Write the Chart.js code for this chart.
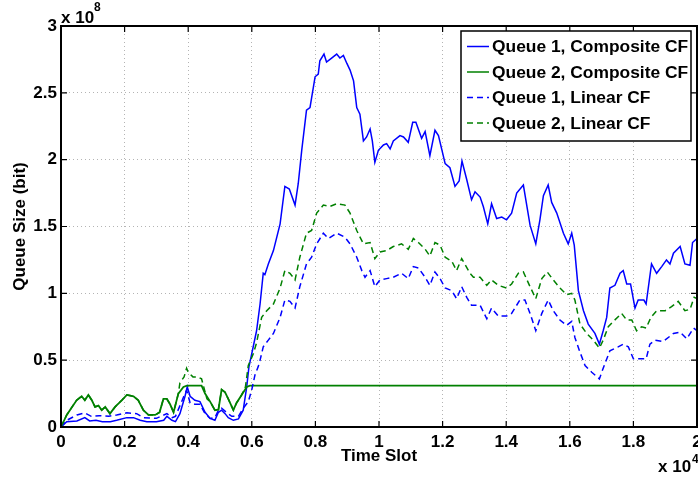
<!DOCTYPE html>
<html>
<head>
<meta charset="utf-8">
<script src="https://cdn.jsdelivr.net/npm/chart.js@4.4.1/dist/chart.umd.min.js"></script>
<style>
  html, body { margin: 0; padding: 0; background: #fff; }
  #c { display: block; }
</style>
</head>
<body>
<canvas id="c" width="698" height="479"></canvas>
<script>
// Time slot in units of 10^4, queue size in units of 10^8 bit
const xTicks = [0, 0.2, 0.4, 0.6, 0.8, 1, 1.2, 1.4, 1.6, 1.8, 2];
const yTicks = [0, 0.5, 1, 1.5, 2, 2.5, 3];
const seriesNames = ["Queue 1, Composite CF", "Queue 2, Composite CF", "Queue 1, Linear CF", "Queue 2, Linear CF"];

const q1CompX = [0,0.018,0.05,0.075,0.09,0.11,0.13,0.155,0.175,0.207,0.228,0.249,0.27,0.30,0.323,0.333,0.349,0.36,0.374,0.39,0.397,0.406,0.421,0.437,0.453,0.469,0.484,0.495,0.505,0.516,0.526,0.542,0.558,0.573,0.584,0.591,0.6,0.615,0.626,0.636,0.641,0.652,0.668,0.689,0.704,0.718,0.736,0.746,0.757,0.772,0.783,0.799,0.809,0.814,0.827,0.835,0.851,0.867,0.877,0.888,0.899,0.909,0.920,0.930,0.940,0.951,0.961,0.972,0.979,0.987,0.998,1.014,1.024,1.035,1.045,1.066,1.077,1.092,1.106,1.116,1.134,1.145,1.160,1.176,1.187,1.208,1.223,1.239,1.252,1.261,1.276,1.291,1.302,1.318,1.328,1.342,1.354,1.370,1.386,1.401,1.417,1.433,1.454,1.475,1.493,1.506,1.517,1.532,1.543,1.559,1.580,1.595,1.606,1.614,1.627,1.643,1.658,1.679,1.693,1.705,1.716,1.726,1.742,1.758,1.768,1.779,1.791,1.805,1.815,1.833,1.840,1.857,1.873,1.889,1.904,1.915,1.926,1.947,1.962,1.978,1.986,2.0];
const q1CompY = [0,0.04,0.045,0.07,0.045,0.05,0.04,0.04,0.05,0.07,0.07,0.05,0.04,0.04,0.05,0.08,0.05,0.04,0.1,0.23,0.30,0.23,0.2,0.19,0.11,0.064,0.05,0.11,0.126,0.1,0.07,0.05,0.06,0.126,0.30,0.45,0.55,0.72,0.92,1.15,1.14,1.22,1.32,1.52,1.80,1.78,1.66,1.82,2.07,2.37,2.39,2.62,2.64,2.74,2.79,2.73,2.76,2.79,2.76,2.78,2.72,2.67,2.59,2.39,2.34,2.14,2.17,2.23,2.14,1.98,2.07,2.11,2.12,2.08,2.14,2.18,2.17,2.13,2.28,2.28,2.16,2.21,2.03,2.22,2.18,1.97,1.94,1.80,1.84,1.99,1.85,1.70,1.76,1.72,1.65,1.52,1.67,1.56,1.57,1.55,1.60,1.75,1.81,1.51,1.37,1.55,1.73,1.81,1.68,1.60,1.45,1.37,1.45,1.36,1.02,0.87,0.77,0.70,0.62,0.72,0.82,1.04,1.06,1.15,1.17,1.07,1.07,0.89,0.95,0.95,0.92,1.22,1.15,1.20,1.25,1.22,1.30,1.35,1.22,1.21,1.38,1.41];

const q2CompX = [0,0.018,0.028,0.049,0.065,0.075,0.086,0.097,0.107,0.118,0.128,0.139,0.154,0.17,0.191,0.207,0.228,0.243,0.259,0.275,0.296,0.31,0.322,0.333,0.343,0.354,0.369,0.385,0.396,0.442,0.453,0.469,0.484,0.495,0.505,0.516,0.526,0.542,0.552,0.568,0.584,0.594,1.0,1.5,2.0];
const q2CompY = [0,0.09,0.126,0.2,0.23,0.2,0.24,0.2,0.15,0.16,0.126,0.15,0.10,0.15,0.2,0.24,0.23,0.2,0.126,0.09,0.09,0.11,0.21,0.21,0.17,0.11,0.25,0.30,0.31,0.31,0.25,0.19,0.126,0.13,0.28,0.26,0.21,0.126,0.18,0.24,0.30,0.31,0.31,0.31,0.31];

const q1LinX = [0,0.018,0.05,0.075,0.095,0.12,0.15,0.175,0.207,0.238,0.26,0.30,0.333,0.35,0.36,0.39,0.395,0.406,0.421,0.437,0.453,0.469,0.484,0.495,0.505,0.52,0.537,0.558,0.573,0.589,0.6,0.61,0.62,0.626,0.636,0.652,0.668,0.689,0.704,0.720,0.736,0.751,0.772,0.788,0.804,0.825,0.841,0.867,0.893,0.909,0.930,0.946,0.956,0.972,0.987,1.003,1.024,1.045,1.071,1.092,1.108,1.124,1.145,1.160,1.176,1.192,1.208,1.229,1.244,1.260,1.276,1.291,1.302,1.318,1.339,1.354,1.375,1.401,1.417,1.443,1.459,1.475,1.493,1.512,1.532,1.548,1.569,1.590,1.606,1.616,1.632,1.648,1.669,1.693,1.705,1.726,1.752,1.768,1.784,1.800,1.821,1.840,1.852,1.868,1.894,1.926,1.947,1.968,1.989,2.0];
const q1LinY = [0,0.05,0.09,0.106,0.08,0.085,0.08,0.09,0.106,0.1,0.07,0.065,0.1,0.07,0.08,0.25,0.276,0.18,0.17,0.17,0.1,0.064,0.07,0.126,0.14,0.11,0.08,0.08,0.14,0.19,0.28,0.39,0.45,0.5,0.6,0.65,0.70,0.82,0.95,0.94,0.89,1.05,1.22,1.27,1.37,1.45,1.41,1.45,1.42,1.37,1.27,1.17,1.12,1.17,1.05,1.10,1.11,1.12,1.15,1.11,1.20,1.19,1.12,1.06,1.16,1.11,1.04,1.02,0.96,1.05,0.97,0.91,0.91,0.91,0.81,0.89,0.83,0.83,0.85,0.95,0.95,0.85,0.72,0.85,0.95,0.87,0.80,0.76,0.79,0.67,0.56,0.46,0.41,0.36,0.44,0.57,0.60,0.62,0.60,0.51,0.51,0.51,0.62,0.65,0.64,0.70,0.71,0.66,0.74,0.72];

const q2LinX = [0,0.018,0.028,0.049,0.065,0.075,0.086,0.097,0.107,0.118,0.128,0.139,0.154,0.17,0.191,0.207,0.228,0.243,0.259,0.275,0.296,0.31,0.322,0.333,0.343,0.354,0.369,0.374,0.387,0.395,0.40,0.415,0.43,0.442,0.459,0.469,0.484,0.495,0.505,0.516,0.526,0.542,0.552,0.568,0.58,0.589,0.605,0.615,0.631,0.647,0.668,0.689,0.704,0.720,0.736,0.751,0.772,0.788,0.804,0.825,0.846,0.867,0.893,0.909,0.930,0.951,0.972,0.987,1.003,1.024,1.045,1.071,1.092,1.108,1.124,1.145,1.160,1.176,1.192,1.208,1.229,1.244,1.260,1.286,1.297,1.318,1.339,1.354,1.375,1.401,1.417,1.438,1.454,1.475,1.493,1.512,1.529,1.548,1.569,1.590,1.606,1.616,1.632,1.653,1.674,1.693,1.705,1.721,1.737,1.763,1.779,1.795,1.810,1.826,1.840,1.855,1.873,1.900,1.920,1.941,1.962,1.978,1.991,2.0];
const q2LinY = [0,0.09,0.126,0.2,0.23,0.2,0.24,0.2,0.15,0.16,0.126,0.15,0.10,0.15,0.2,0.24,0.23,0.2,0.126,0.09,0.09,0.11,0.21,0.21,0.17,0.11,0.25,0.33,0.375,0.44,0.41,0.375,0.375,0.36,0.21,0.19,0.126,0.13,0.28,0.26,0.21,0.126,0.18,0.24,0.30,0.46,0.55,0.63,0.82,0.87,0.92,1.04,1.17,1.15,1.10,1.27,1.45,1.47,1.60,1.66,1.65,1.67,1.66,1.60,1.47,1.37,1.38,1.26,1.31,1.32,1.35,1.37,1.33,1.41,1.38,1.33,1.28,1.38,1.36,1.27,1.24,1.17,1.26,1.15,1.12,1.12,1.06,1.10,1.06,1.04,1.07,1.15,1.16,1.05,0.96,1.11,1.16,1.10,1.04,0.99,1.00,0.95,0.77,0.70,0.65,0.59,0.65,0.75,0.79,0.85,0.80,0.80,0.72,0.75,0.74,0.82,0.87,0.87,0.90,0.94,0.87,0.88,0.97,0.96];

const BLUE = '#0000ff';
const GREEN = '#008000';
const FONT = '"Liberation Sans", Arial, Helvetica, sans-serif';

function pts(xs, ys) { return xs.map((x, i) => ({ x: x, y: ys[i] })); }
function fmt(v) { return String(Math.round(v * 10) / 10); }

const dashPattern = [6, 4];

const legendPlugin = {
  id: 'matlabDecor',
  afterDraw(chart) {
    const ctx = chart.ctx;
    const a = chart.chartArea;
    const xs = chart.scales.x, ys = chart.scales.y;
    ctx.save();
    // inward tick marks on all four sides
    ctx.strokeStyle = '#000';
    ctx.lineWidth = 1.2;
    const tl = 6;
    ctx.beginPath();
    xTicks.forEach(v => {
      const px = xs.getPixelForValue(v);
      ctx.moveTo(px, a.bottom); ctx.lineTo(px, a.bottom - tl);
      ctx.moveTo(px, a.top); ctx.lineTo(px, a.top + tl);
    });
    yTicks.forEach(v => {
      const py = ys.getPixelForValue(v);
      ctx.moveTo(a.left, py); ctx.lineTo(a.left + tl, py);
      ctx.moveTo(a.right, py); ctx.lineTo(a.right - tl, py);
    });
    ctx.stroke();
    // axes box
    ctx.lineWidth = 2;
    ctx.strokeRect(a.left, a.top, a.right - a.left, a.bottom - a.top);

    // exponent labels
    ctx.fillStyle = '#000';
    ctx.textAlign = 'left';
    ctx.textBaseline = 'alphabetic';
    ctx.font = 'bold 17px ' + FONT;
    ctx.fillText('x 10', 61, 22.5);
    ctx.fillText('x 10', 658, 471.5);
    ctx.font = 'bold 12px ' + FONT;
    ctx.fillText('8', 94, 10.5);
    ctx.fillText('4', 692, 463);

    // legend
    const bx = 461, by = 31, bw = 230, bh = 110;
    ctx.fillStyle = '#fff';
    ctx.fillRect(bx, by, bw, bh);
    ctx.lineWidth = 1.5;
    ctx.strokeStyle = '#000';
    ctx.strokeRect(bx, by, bw, bh);
    const rows = [46.5, 72, 97.5, 123];
    chart.data.datasets.forEach((ds, i) => {
      const y = rows[i];
      ctx.strokeStyle = ds.borderColor;
      ctx.lineWidth = 1.5;
      ctx.setLineDash(ds.borderDash || []);
      ctx.beginPath();
      ctx.moveTo(467, y); ctx.lineTo(489, y);
      ctx.stroke();
      ctx.setLineDash([]);
      ctx.fillStyle = '#000';
      ctx.font = 'bold 17.4px ' + FONT;
      ctx.textBaseline = 'middle';
      ctx.fillText(ds.label, 492, y + 1);
    });
    ctx.restore();
  }
};

new Chart(document.getElementById('c'), {
  type: 'line',
  data: {
    datasets: [
      { label: seriesNames[0], data: pts(q1CompX, q1CompY), borderColor: BLUE, borderWidth: 1.5, order: 4 },
      { label: seriesNames[1], data: pts(q2CompX, q2CompY), borderColor: GREEN, borderWidth: 1.8, order: 3 },
      { label: seriesNames[2], data: pts(q1LinX, q1LinY), borderColor: BLUE, borderWidth: 1.5, borderDash: dashPattern, order: 2 },
      { label: seriesNames[3], data: pts(q2LinX, q2LinY), borderColor: GREEN, borderWidth: 1.5, borderDash: dashPattern, order: 1 }
    ]
  },
  options: {
    responsive: false,
    animation: false,
    devicePixelRatio: 1,
    parsing: true,
    layout: { padding: { left: 0, right: 1, top: 26, bottom: 0 } },
    elements: { point: { radius: 0 }, line: { tension: 0, fill: false } },
    plugins: { legend: { display: false }, tooltip: { enabled: false } },
    scales: {
      x: {
        type: 'linear', min: 0, max: 2,
        afterBuildTicks(s) { s.ticks = xTicks.map(v => ({ value: v })); },
        afterFit(s) { s.height = 52; s.paddingLeft = 0; s.paddingRight = 0; },
        ticks: { callback: v => fmt(v), color: '#000', font: { family: FONT, size: 17, weight: 'bold' }, padding: 5, maxRotation: 0, autoSkip: false },
        grid: { color: '#b4b4b4', lineWidth: 1, drawTicks: false },
        border: { display: false, dash: [1, 3] },
        title: { display: true, text: 'Time Slot', color: '#000', font: { family: FONT, size: 17, weight: 'bold', lineHeight: 1.2 }, padding: { top: 0, bottom: 12 } }
      },
      y: {
        type: 'linear', min: 0, max: 3,
        afterBuildTicks(s) { s.ticks = yTicks.map(v => ({ value: v })); },
        afterFit(s) { s.width = 61; s.paddingTop = 0; s.paddingBottom = 0; },
        ticks: { callback: v => fmt(v), color: '#000', font: { family: FONT, size: 17, weight: 'bold' }, padding: 4, autoSkip: false },
        grid: { color: '#b4b4b4', lineWidth: 1, drawTicks: false },
        border: { display: false, dash: [1, 3] },
        title: { display: true, text: 'Queue Size (bit)', color: '#000', font: { family: FONT, size: 17, weight: 'bold', lineHeight: 1.2 }, padding: { top: 10, bottom: 0 } }
      }
    }
  },
  plugins: [legendPlugin]
});
</script>
</body>
</html>
